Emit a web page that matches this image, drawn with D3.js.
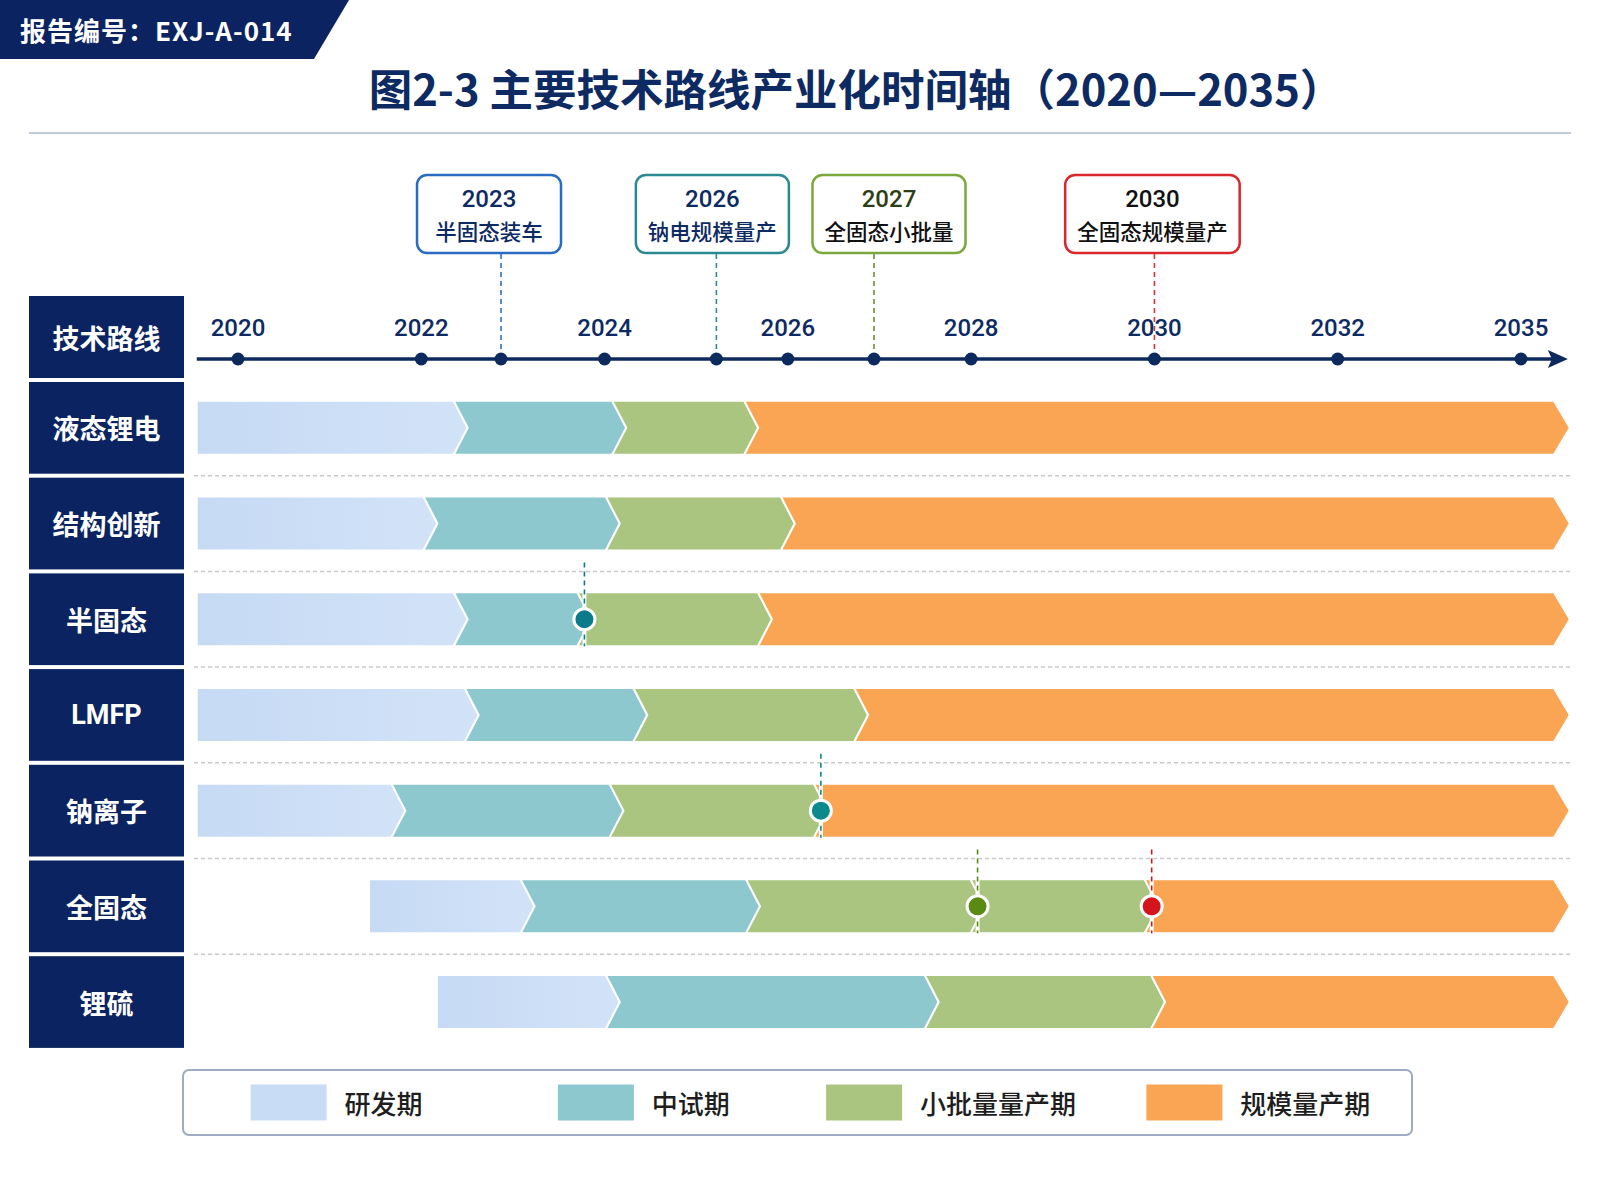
<!DOCTYPE html>
<html>
<head>
<meta charset="utf-8">
<script src="https://cdn.jsdelivr.net/npm/d3@7/dist/d3.min.js"></script>
<style>
  html, body { margin: 0; padding: 0; background: #ffffff; }
  svg { display: block; }
</style>
</head>
<body>
<svg id="chart" width="1600" height="1200"></svg>
<script>
// ---------------- DATA ----------------
const reportNo = "报告编号：EXJ-A-014";
const titleText = "图2-3 主要技术路线产业化时间轴（2020—2035）";
const headerLabel = "技术路线";

const tickYears = [2020, 2022, 2024, 2026, 2028, 2030, 2032, 2035];
const timelineStart = 2019.55;
const timelineEnd = 2035.8;

const routes = ["液态锂电", "结构创新", "半固态", "LMFP", "钠离子", "全固态", "锂硫"];
const phaseNames = ["研发期", "中试期", "小批量量产期", "规模量产期"];
const phaseColors = ["#c9dcf5", "#8dc8cf", "#a9c57f", "#f9a553"];

// phase start values (in years), end of last phase = timelineEnd
const rdStart    = [2019.55, 2019.55, 2019.55, 2019.55, 2019.55, 2021.43, 2022.17];
const pilotStart = [2022.43, 2022.10, 2022.43, 2022.55, 2021.75, 2023.16, 2024.09];
const smallStart = [2024.16, 2024.09, 2023.78, 2024.39, 2024.13, 2025.62, 2027.57];
const massStart  = [2025.60, 2026.00, 2025.75, 2026.80, 2026.36, 2029.97, 2030.04];

// milestone call-outs above the axis
const milestoneLabels = ["2023", "2026", "2027", "2030"];
const milestoneTexts  = ["半固态装车", "钠电规模量产", "全固态小批量", "全固态规模量产"];
const milestoneAt     = [2022.87, 2025.22, 2026.94, 2030];
const milestoneBorder = ["#2a6cc2", "#2b8a8f", "#7aa83c", "#d9272e"];
const milestoneDash   = ["#2f6fbf", "#2b8a92", "#6b8a38", "#d6383d"];
const milestoneYearColor = ["#0d2a63", "#0d2a63", "#2d3f12", "#111111"];
const milestoneTextColor = ["#0d2a63", "#0d2a63", "#111111", "#111111"];

// markers inside the rows
const markerRoutes = ["半固态", "钠离子", "全固态", "全固态"];
const markerAt     = [2023.78, 2026.36, 2028.07, 2029.97];
const markerColors = ["#0b7b8b", "#0a8a8a", "#5b8a14", "#d4151b"];

// ---------------- LAYOUT ----------------
const W = 1600, H = 1200;
const navy = "#0b2461";
const axisColor = "#0d2a5e";
const cjk = "'Noto Sans CJK SC', 'Noto Sans', sans-serif";
const num = "Roboto, 'Noto Sans', sans-serif";
const calloutNudge = [-12, -4, 15, -2];   // horizontal nudge of callout boxes (layout only)

const svg = d3.select("#chart");

// x scale: ticks evenly spaced (piecewise linear)
const x2020 = 238, x2035 = 1521;
const step = (x2035 - x2020) / (tickYears.length - 1);
const x = d3.scaleLinear()
  .domain(tickYears)
  .range(tickYears.map((d, i) => x2020 + i * step));

const rowTop = 380, rowPitch = 95.7;
const y = d3.scaleBand().domain(routes)
  .range([rowTop, rowTop + rowPitch * routes.length]).paddingInner(0).paddingOuter(0);
const barH = 54;
const labelX0 = 29, labelX1 = 184;
const axisY = 359;

// defs: gradient for R&D phase
const defs = svg.append("defs");
const grad = defs.append("linearGradient").attr("id", "rdGrad").attr("x1", "0").attr("x2", "1");
grad.append("stop").attr("offset", "0").attr("stop-color", "#c6daf4");
grad.append("stop").attr("offset", "1").attr("stop-color", "#d2e3f8");

// ---------------- HEADER ----------------
svg.append("path")
  .attr("d", "M0,0 L349,0 L314,59 L0,59 Z")
  .attr("fill", navy);
svg.append("text")
  .attr("x", 20).attr("y", 41)
  .attr("fill", "#ffffff")
  .attr("font-family", cjk).attr("font-weight", 700).attr("font-size", 26)
  .attr("letter-spacing", 1)
  .text(reportNo);

svg.append("text")
  .attr("x", 856).attr("y", 106)
  .attr("text-anchor", "middle")
  .attr("fill", "#0d2a63")
  .attr("font-family", cjk).attr("font-weight", 700).attr("font-size", 43.5)
  .text(titleText);

svg.append("line")
  .attr("x1", 29).attr("x2", 1571).attr("y1", 133).attr("y2", 133)
  .attr("stroke", "#c3ccda").attr("stroke-width", 2);

// ---------------- LEFT COLUMN ----------------
svg.append("rect")
  .attr("x", labelX0).attr("y", 296)
  .attr("width", labelX1 - labelX0).attr("height", rowTop - 2 - 296)
  .attr("fill", navy);
svg.append("text")
  .attr("x", (labelX0 + labelX1) / 2).attr("y", (296 + rowTop - 2) / 2)
  .attr("text-anchor", "middle").attr("dominant-baseline", "central")
  .attr("fill", "#fff").attr("font-family", cjk).attr("font-weight", 700).attr("font-size", 27)
  .text(headerLabel);

const labels = svg.append("g");
labels.selectAll("rect").data(routes).join("rect")
  .attr("x", labelX0).attr("y", d => y(d) + 2)
  .attr("width", labelX1 - labelX0).attr("height", y.bandwidth() - 4)
  .attr("fill", navy);
labels.selectAll("text").data(routes).join("text")
  .attr("x", (labelX0 + labelX1) / 2).attr("y", d => y(d) + y.bandwidth() / 2)
  .attr("text-anchor", "middle").attr("dominant-baseline", "central")
  .attr("fill", "#fff")
  .attr("font-family", d => /^[A-Z]+$/.test(d) ? num : cjk)
  .attr("font-weight", 700).attr("font-size", 27)
  .text(d => d);

// row separators
svg.append("g").selectAll("line").data(routes.slice(0, -1)).join("line")
  .attr("x1", 194).attr("x2", 1571)
  .attr("y1", d => y(d) + y.bandwidth()).attr("y2", d => y(d) + y.bandwidth())
  .attr("stroke", "#c9c9c9").attr("stroke-width", 1.5).attr("stroke-dasharray", "4,3");

// ---------------- MILESTONE CALLOUTS ----------------
const msG = svg.append("g");
milestoneLabels.forEach((lab, i) => {
  const lx = x(milestoneAt[i]);
  const cx = lx + calloutNudge[i];
  const boxTop = 175, boxBot = 253;
  msG.append("line")
    .attr("x1", lx).attr("x2", lx).attr("y1", boxBot + 1).attr("y2", axisY)
    .attr("stroke", milestoneDash[i]).attr("stroke-width", 1.6).attr("stroke-dasharray", "5,4");
  const g = msG.append("g");
  const t1 = g.append("text")
    .attr("x", cx).attr("y", 207).attr("text-anchor", "middle")
    .attr("fill", milestoneYearColor[i])
    .attr("font-family", num).attr("font-weight", 500).attr("font-size", 24)
    .text(lab);
  const t2 = g.append("text")
    .attr("x", cx).attr("y", 240).attr("text-anchor", "middle")
    .attr("fill", milestoneTextColor[i])
    .attr("font-family", cjk).attr("font-weight", 500).attr("font-size", 21.5)
    .text(milestoneTexts[i]);
  const tw = Math.max(t1.node().getComputedTextLength(), t2.node().getComputedTextLength());
  const bw = Math.max(tw + 24, 144);
  g.insert("rect", "text")
    .attr("x", cx - bw / 2).attr("y", boxTop)
    .attr("width", bw).attr("height", boxBot - boxTop)
    .attr("rx", 10).attr("ry", 10)
    .attr("fill", "#ffffff")
    .attr("stroke", milestoneBorder[i]).attr("stroke-width", 2.5);
});

// ---------------- AXIS ----------------
const axG = svg.append("g");
const axX0 = x(timelineStart), axX1 = x(timelineEnd) - 2;
axG.append("line")
  .attr("x1", axX0).attr("x2", axX1 - 14).attr("y1", axisY).attr("y2", axisY)
  .attr("stroke", axisColor).attr("stroke-width", 3.5);
axG.append("path")
  .attr("d", `M${axX1},${axisY} L${axX1 - 20},${axisY - 9} L${axX1 - 16},${axisY} L${axX1 - 20},${axisY + 9} Z`)
  .attr("fill", axisColor);
const dotYears = tickYears.concat(milestoneAt.filter(m => !tickYears.includes(m)));
axG.selectAll("circle.tick").data(dotYears).join("circle")
  .attr("class", "tick")
  .attr("cx", d => x(d)).attr("cy", axisY).attr("r", 6.5)
  .attr("fill", axisColor);
axG.selectAll("text").data(tickYears).join("text")
  .attr("x", d => x(d)).attr("y", 336)
  .attr("text-anchor", "middle")
  .attr("fill", "#0d2a63")
  .attr("font-family", num).attr("font-weight", 500).attr("font-size", 24)
  .text(d => d);

// ---------------- BARS ----------------
const d = 14;      // chevron depth
const endD = 16;   // final arrow depth
const barsG = svg.append("g");

routes.forEach((r, ri) => {
  const starts = [rdStart[ri], pilotStart[ri], smallStart[ri], massStart[ri]];
  let segs = phaseNames.map((p, pi) => ({
    phase: pi,
    a: starts[pi],
    b: pi < 3 ? starts[pi + 1] : timelineEnd
  }));
  // split segments where a marker falls strictly inside
  markerRoutes.forEach((mr, mi) => {
    if (mr !== r) return;
    const m = markerAt[mi];
    const out = [];
    segs.forEach(s => {
      if (m > s.a + 0.05 && m < s.b - 0.05) {
        out.push({ phase: s.phase, a: s.a, b: m });
        out.push({ phase: s.phase, a: m, b: s.b });
      } else out.push(s);
    });
    segs = out;
  });
  const cy = y(r) + y.bandwidth() / 2;
  const y0 = cy - barH / 2, y1 = cy + barH / 2;
  barsG.selectAll(null).data(segs).join("path")
    .attr("d", (s, si) => {
      const xa = x(s.a), xb = x(s.b);
      const first = si === 0, last = si === segs.length - 1;
      const pts = [];
      if (first) pts.push([xa, y0]); else pts.push([xa - d / 2, y0]);
      if (last) { pts.push([xb - endD, y0]); pts.push([xb, cy]); pts.push([xb - endD, y1]); }
      else { pts.push([xb - d / 2, y0]); pts.push([xb + d / 2, cy]); pts.push([xb - d / 2, y1]); }
      if (first) pts.push([xa, y1]);
      else { pts.push([xa - d / 2, y1]); pts.push([xa + d / 2, cy]); }
      return "M" + pts.map(p => p.join(",")).join("L") + "Z";
    })
    .attr("fill", s => s.phase === 0 ? "url(#rdGrad)" : phaseColors[s.phase])
    .attr("stroke", "#ffffff").attr("stroke-width", 2).attr("stroke-linejoin", "miter");
});

// ---------------- ROW MARKERS ----------------
const mkG = svg.append("g");
markerRoutes.forEach((r, mi) => {
  const mx = x(markerAt[mi]);
  const cy = y(r) + y.bandwidth() / 2;
  const top = y(r) - 9, bot = cy + barH / 2;
  mkG.append("line")
    .attr("x1", mx).attr("x2", mx).attr("y1", cy - barH / 2).attr("y2", bot)
    .attr("stroke", "#ffffff").attr("stroke-width", 4);
  mkG.append("line")
    .attr("x1", mx).attr("x2", mx).attr("y1", top).attr("y2", bot)
    .attr("stroke", markerColors[mi]).attr("stroke-width", 1.6).attr("stroke-dasharray", "5,4");
  mkG.append("circle")
    .attr("cx", mx).attr("cy", cy).attr("r", 10.5)
    .attr("fill", markerColors[mi])
    .attr("stroke", "#ffffff").attr("stroke-width", 3);
});

// ---------------- LEGEND ----------------
const lgX0 = 183, lgX1 = 1412, lgY0 = 1070, lgY1 = 1135;
svg.append("rect")
  .attr("x", lgX0).attr("y", lgY0).attr("width", lgX1 - lgX0).attr("height", lgY1 - lgY0)
  .attr("rx", 6).attr("ry", 6)
  .attr("fill", "#ffffff").attr("stroke", "#9eabc2").attr("stroke-width", 2);
const lgCol = d3.scaleBand().domain(phaseNames).range([lgX0, lgX1]);
const lgCy = (lgY0 + lgY1) / 2;
phaseNames.forEach((p, i) => {
  const g = svg.append("g");
  const sw = 76, gap = 18;
  const t = g.append("text")
    .attr("y", lgCy).attr("dominant-baseline", "central")
    .attr("fill", "#1e1e1e")
    .attr("font-family", cjk).attr("font-weight", 500).attr("font-size", 26)
    .text(p);
  const tw = t.node().getComputedTextLength();
  const total = sw + gap + tw;
  const sx = lgCol(p) + lgCol.bandwidth() / 2 - total / 2;
  g.insert("rect", "text")
    .attr("x", sx).attr("y", lgCy - 18).attr("width", sw).attr("height", 36)
    .attr("fill", phaseColors[i]);
  t.attr("x", sx + sw + gap);
});
</script>
</body>
</html>
